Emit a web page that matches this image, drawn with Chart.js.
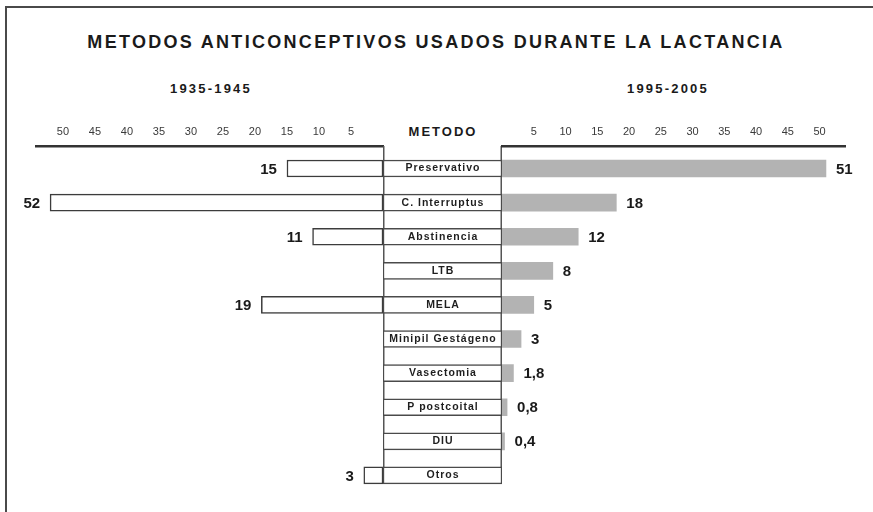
<!DOCTYPE html>
<html>
<head>
<meta charset="utf-8">
<script src="https://cdn.jsdelivr.net/npm/chart.js@4.4.1/dist/chart.umd.min.js"></script>
<style>
body{margin:0;background:#fff;}
#wrap{position:relative;width:873px;height:512px;overflow:hidden;background:#fff;
  font-family:"Liberation Sans",Arial,sans-serif;color:#1a1a1a;}
#frame{position:absolute;left:5px;top:6px;width:900px;height:600px;
  border-left:2px solid #4a4a4a;border-top:2px solid #4a4a4a;}
.txt{position:absolute;font-weight:bold;white-space:nowrap;transform:translate(-50%,-50%);}
#titulo{left:436px;top:42px;font-size:18px;letter-spacing:2.3px;}
#p1{left:211px;top:88px;font-size:13px;letter-spacing:2.2px;}
#p2{left:668px;top:88px;font-size:13px;letter-spacing:2.2px;}
#met{left:443px;top:131px;font-size:13px;letter-spacing:2px;}
canvas{position:absolute;top:0;}
#izq{left:0;}
#centro{left:378px;}
#der{left:495px;}
</style>
</head>
<body>
<div id="wrap">
  <div id="frame"></div>
  <div class="txt" id="titulo">METODOS ANTICONCEPTIVOS USADOS DURANTE LA LACTANCIA</div>
  <div class="txt" id="p1">1935-1945</div>
  <div class="txt" id="p2">1995-2005</div>
  <div class="txt" id="met">METODO</div>
  <canvas id="izq" width="390" height="512"></canvas>
  <canvas id="centro" width="129" height="512"></canvas>
  <canvas id="der" width="378" height="512"></canvas>
</div>
<script>
// datos
const metodos = ['Preservativo','C. Interruptus','Abstinencia','LTB','MELA',
  'Minipil Gestágeno','Vasectomia','P postcoital','DIU','Otros'];
const v1935 = [15, 52, 11, null, 19, null, null, null, null, 3];
const v1995 = [51, 18, 12, 8, 5, 3, 1.8, 0.8, 0.4, null];
const ticksIzq = [5, 10, 15, 20, 25, 30, 35, 40, 45, 50];
const ticksDer = [5, 10, 15, 20, 25, 30, 35, 40, 45, 50];

const FUENTE = '"Liberation Sans", Arial, sans-serif';

function puntos(valores){
  return valores.map((v, i) => ({x: v, y: i})).filter(d => d.x != null);
}

const ejeY = {type: 'linear', reverse: true, min: -0.66, max: 9.5, offset: false, display: false};

function ejeX(reverse, max, ticks){
  return {
    type: 'linear', position: 'top', reverse: reverse, min: 0, max: max,
    grid: {display: false, drawTicks: false},
    border: {display: true, color: '#333', width: 2.5},
    ticks: {color: '#3a3a3a', font: {size: 11, family: FUENTE}, padding: 7},
    afterBuildTicks: s => { s.ticks = ticks.map(v => ({value: v})); },
    afterFit: s => { s.height = 146; }
  };
}

const etiquetasValor = {
  id: 'etiquetasValor',
  afterDatasetsDraw(chart, args, opts){
    const ctx = chart.ctx;
    const meta = chart.getDatasetMeta(0);
    const datos = chart.data.datasets[0].data;
    ctx.save();
    ctx.font = 'bold 15px ' + FUENTE;
    ctx.fillStyle = '#1a1a1a';
    ctx.textBaseline = 'middle';
    ctx.textAlign = opts.lado === 'izq' ? 'right' : 'left';
    meta.data.forEach((bar, i) => {
      const txt = String(datos[i].x).replace('.', ',');
      const x = opts.lado === 'izq' ? bar.x - 10 : bar.x + 10;
      ctx.fillText(txt, x, bar.y + 1);
    });
    ctx.restore();
  }
};

const columna = {
  id: 'columna',
  beforeDatasetsDraw(chart){
    const ctx = chart.ctx, a = chart.chartArea;
    const meta = chart.getDatasetMeta(0);
    const ult = meta.data[meta.data.length - 1];
    const fondo = ult.y + ult.height / 2;
    ctx.save();
    ctx.strokeStyle = '#555';
    ctx.lineWidth = 1.5;
    ctx.beginPath();
    ctx.moveTo(a.left + 0.75, a.top); ctx.lineTo(a.left + 0.75, fondo);
    ctx.moveTo(a.right - 0.75, a.top); ctx.lineTo(a.right - 0.75, fondo);
    ctx.stroke();
    ctx.restore();
  },
  afterDatasetsDraw(chart){
    const ctx = chart.ctx, a = chart.chartArea;
    const meta = chart.getDatasetMeta(0);
    ctx.save();
    ctx.font = 'bold 10.5px ' + FUENTE;
    ctx.letterSpacing = '1px';
    ctx.fillStyle = '#1e1e1e';
    ctx.textAlign = 'center';
    ctx.textBaseline = 'middle';
    meta.data.forEach((bar, i) => {
      ctx.fillText(metodos[i], (a.left + a.right) / 2 + 0.5, bar.y);
    });
    ctx.restore();
  }
};

const base = {
  responsive: false,
  animation: false,
  indexAxis: 'y',
  plugins: {legend: {display: false}, tooltip: {enabled: false}}
};

new Chart(document.getElementById('izq'), {
  type: 'bar',
  data: {datasets: [{data: puntos(v1935), backgroundColor: '#fff', borderColor: '#3c3c3c',
    borderWidth: 1.5, borderSkipped: false, barThickness: 17}]},
  options: Object.assign({}, base, {
    layout: {padding: {left: 36, right: 7, top: 0, bottom: 19.5}},
    plugins: Object.assign({}, base.plugins, {etiquetasValor: {lado: 'izq'}}),
    scales: {x: ejeX(true, 54.2, ticksIzq), y: ejeY}
  }),
  plugins: [etiquetasValor]
});

new Chart(document.getElementById('centro'), {
  type: 'bar',
  data: {datasets: [{data: metodos.map((m, i) => ({x: [0, 1], y: i})), backgroundColor: '#fff',
    borderColor: '#4a4a4a', borderWidth: 1.5, borderSkipped: false, barThickness: 17}]},
  options: Object.assign({}, base, {
    layout: {padding: {left: 5, right: 5, top: 146, bottom: 19.5}},
    scales: {x: {type: 'linear', min: 0, max: 1, display: false}, y: ejeY}
  }),
  plugins: [columna]
});

new Chart(document.getElementById('der'), {
  type: 'bar',
  data: {datasets: [{data: puntos(v1995), backgroundColor: '#b3b3b3', borderWidth: 0,
    barThickness: 17}]},
  options: Object.assign({}, base, {
    layout: {padding: {left: 7, right: 28, top: 0, bottom: 19.5}},
    plugins: Object.assign({}, base.plugins, {etiquetasValor: {lado: 'der'}}),
    scales: {x: ejeX(false, 54, ticksDer), y: ejeY}
  }),
  plugins: [etiquetasValor]
});
</script>
</body>
</html>
